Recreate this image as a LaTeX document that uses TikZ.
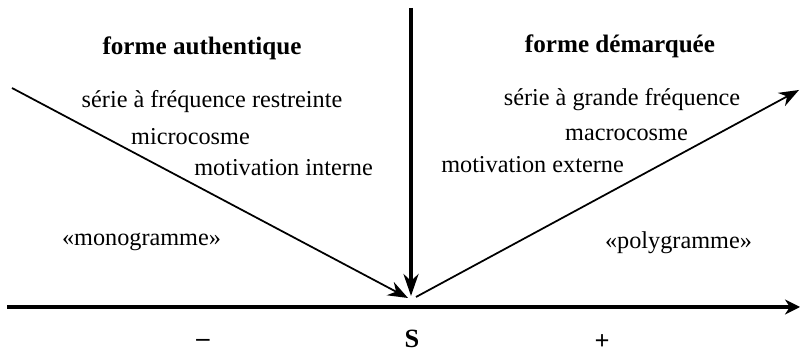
\documentclass[tikz,border=0pt]{standalone}
\usepackage{fontspec}
\setmainfont{Liberation Serif}
\usetikzlibrary{arrows.meta}

\begin{document}
\begin{tikzpicture}[
    axis/.style={-{Stealth[length=0.3cm, width=0.3cm]}, line width=2.6pt},
    vert/.style={-{Stealth[length=0.44cm, width=0.3cm]}, line width=2.3pt},
    diag/.style={-{Stealth[length=0.4cm, width=0.3cm]}, line width=1pt},
    title/.style={font=\fontsize{14.3}{16}\selectfont\bfseries},
    term/.style={font=\fontsize{13.8}{16}\selectfont},
    sign/.style={font=\fontsize{15}{17}\selectfont\bfseries, inner sep=0pt}
  ]
    \useasboundingbox (0,0) rectangle (16,7.08);

    % end points of the arrows
    \coordinate (axisstart) at (0.14, 0.94);
    \coordinate (axisend) at (16, 0.94);
    \coordinate (top) at (8.22, 6.92);
    \coordinate (vtip) at (8.22, 1.16);
    \coordinate (lstart) at (0.24, 5.32);
    \coordinate (ltip) at (8.16, 1.12);
    \coordinate (rstart) at (8.32, 1.14);
    \coordinate (rtip) at (15.98, 5.28);

    % headings
    \node[title] (authentique) at (4.04, 6.12) {forme authentique};
    \node[title] (demarquee) at (12.4, 6.16) {forme démarquée};

    % left side
    \node[term] (restreinte) at (4.24, 5.04) {série à fréquence restreinte};
    \node[term] (micro) at (3.81, 4.34) {microcosme};
    \node[term] (interne) at (5.67, 3.72) {motivation interne};
    \node[term] (mono) at (2.83, 2.24) {«monogramme»};

    % right side
    \node[term] (grande) at (12.44, 5.08) {série à grande fréquence};
    \node[term] (macro) at (12.53, 4.38) {macrocosme};
    \node[term] (externe) at (10.65, 3.78) {motivation externe};
    \node[term] (poly) at (13.57, 2.22) {«polygramme»};

    % scale labels
    \node[sign] (moins) at (4.06, 0.22) {\textbf{–}};
    \node[sign] (s) at (8.24, 0.3) {S};
    \node[sign] (plus) at (12.04, 0.24) {+};

    % arrows
    \draw[axis] (axisstart) -- (axisend);
    \draw[vert] (top) -- (vtip);
    \draw[diag] (lstart) -- (ltip);
    \draw[diag] (rstart) -- (rtip);

  \end{tikzpicture}
\end{document}
